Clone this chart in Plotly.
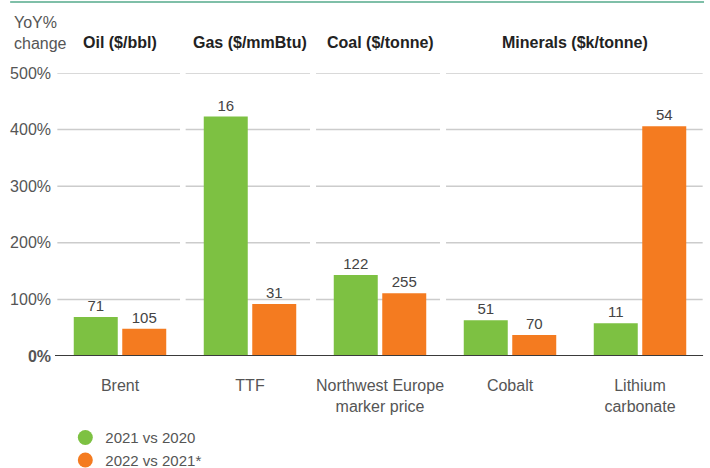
import plotly.graph_objects as go

categories = ["Brent", "TTF", "Northwest Europe<br>marker price", "Cobalt", "Lithium<br>carbonate"]
groups = ["Oil ($/bbl)", "Gas ($/mmBtu)", "Coal ($/tonne)", "Minerals ($k/tonne)"]
group_pos = [0, 1, 2, 3.5]
yoy_2021 = [69, 423, 143, 63, 58]
yoy_2022 = [48, 92, 111, 37, 406]
price_2021 = ["71", "16", "122", "51", "11"]
price_2022 = ["105", "31", "255", "70", "54"]
series_names = ["2021 vs 2020", "2022 vs 2021*"]
tick_vals = [0, 100, 200, 300, 400, 500]
tick_text = ["<b>0%</b>", "100%", "200%", "300%", "400%", "500%"]

GREEN = "#7dc142"
ORANGE = "#f47b20"
FONT = "Liberation Sans, Arial, sans-serif"

x_idx = list(range(len(categories)))

fig = go.Figure()
for vals, texts, col in [(yoy_2021, price_2021, GREEN), (yoy_2022, price_2022, ORANGE)]:
    fig.add_trace(go.Bar(
        x=x_idx, y=vals, text=texts, textposition="outside",
        textfont=dict(size=15, color="#444444", family=FONT),
        marker=dict(color=col, line=dict(width=0)),
        cliponaxis=False, showlegend=False, hoverinfo="skip",
    ))
for name, col in zip(series_names, [GREEN, ORANGE]):
    fig.add_trace(go.Scatter(
        x=[None], y=[None], mode="markers", name=name,
        marker=dict(size=15, color=col, symbol="circle"),
    ))

shapes = []
segments = [(-0.482, 0.4615), (0.505, 1.4615), (1.508, 2.4615), (2.508, 4.482)]
for v in tick_vals[1:]:
    for a, b in segments:
        shapes.append(dict(type="line", xref="x", yref="y", x0=a, x1=b, y0=v, y1=v,
                           line=dict(color="#cccccc", width=1.5), layer="below"))
shapes.append(dict(type="line", xref="x", yref="y", x0=-0.515, x1=4.485, y0=0, y1=0,
                   line=dict(color="#3a3a3a", width=2), layer="above"))
# top rule
shapes.append(dict(type="line", xref="paper", yref="paper", x0=-0.069, x1=0.9985,
                   y0=1.251, y1=1.251, line=dict(color="#7fbfa8", width=2)))

annotations = []
for g, p in zip(groups, group_pos):
    annotations.append(dict(x=p, y=1.108, xref="x", yref="paper", text=f"<b>{g}</b>",
                            showarrow=False, xanchor="center", yanchor="middle",
                            font=dict(size=16, color="#222222", family=FONT)))
annotations.append(dict(x=-0.0666, y=1.142, xref="paper", yref="paper", text="YoY%<br>change",
                        showarrow=False, xanchor="left", yanchor="middle", align="left",
                        font=dict(size=16, color="#555555", family=FONT)))

fig.update_layout(
    width=710, height=468,
    margin=dict(l=55, r=5, t=73, b=112, autoexpand=False),
    paper_bgcolor="white", plot_bgcolor="white",
    barmode="group", bargap=0.254, bargroupgap=0.093,
    font=dict(family=FONT, size=15, color="#555555"),
    xaxis=dict(range=[-0.5, 4.5], tickvals=x_idx, ticktext=categories, showgrid=False,
               zeroline=False, showline=False, ticks="", ticklabelstandoff=18,
               automargin=False, tickfont=dict(size=16, color="#555555")),
    yaxis=dict(range=[0, 500], tickvals=tick_vals, ticktext=tick_text, showgrid=False,
               zeroline=False, showline=False, ticks="", ticklabelstandoff=3,
               automargin=False, tickfont=dict(size=16, color="#555555")),
    legend=dict(x=0.092, y=0.1, xref="container", yref="container",
                xanchor="left", yanchor="top", orientation="v",
                font=dict(size=15, color="#555555", family=FONT), itemwidth=30,
                tracegroupgap=0, bgcolor="rgba(0,0,0,0)"),
    shapes=shapes, annotations=annotations,
)

fig.write_html("out.html", config={"displayModeBar": False},
               post_script="document.body.style.margin='0';document.body.style.overflow='hidden';")
